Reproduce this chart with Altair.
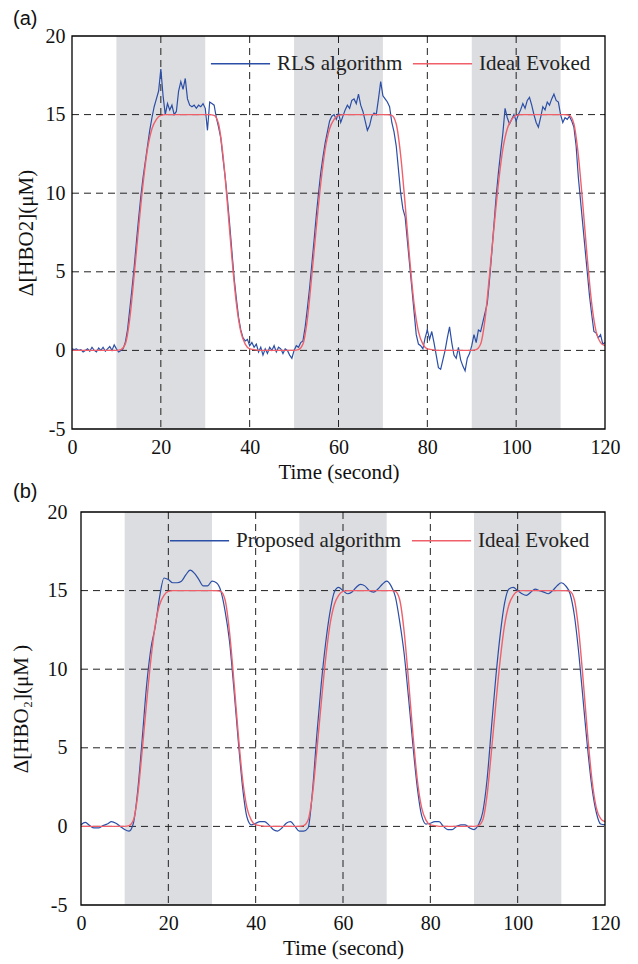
import altair as alt
import pandas as pd

# ---------------- data ----------------
shade_start = [10, 50, 90]
shade_end = [30, 70, 110]
grid_x = [20, 40, 60, 80, 100]
grid_y = [0, 5, 10, 15]
x_ticks = [0, 20, 40, 60, 80, 100, 120]
y_ticks = [-5, 0, 5, 10, 15, 20]

# ideal evoked response, 1 s resolution, t = 0..120
t_ideal = list(range(0, 121))
ideal = [
    0, 0, 0, 0, 0, 0, 0, 0, 0, 0, 0, 0.05,
    0.4, 2.0, 4.8, 7.8, 10.6, 12.8, 14.1, 14.7, 14.95,
    15, 15, 15, 15, 15, 15, 15, 15, 15, 15, 15,
    14.95, 14.4, 12.4, 9.3, 5.9, 3.0, 1.2, 0.4, 0.1,
    0.05, 0, 0, 0, 0, 0, 0, 0, 0, 0, 0.05,
    0.4, 2.0, 4.8, 7.8, 10.6, 12.8, 14.1, 14.7, 14.95,
    15, 15, 15, 15, 15, 15, 15, 15, 15, 15, 15,
    14.95, 14.4, 12.4, 9.3, 5.9, 3.0, 1.2, 0.4, 0.1,
    0.05, 0, 0, 0, 0, 0, 0, 0, 0, 0, 0.05,
    0.4, 2.0, 4.8, 7.8, 10.6, 12.8, 14.1, 14.7, 14.95,
    15, 15, 15, 15, 15, 15, 15, 15, 15, 15, 15,
    14.95, 14.4, 12.4, 9.3, 5.9, 3.0, 1.2, 0.5, 0.3,
]

# RLS algorithm estimate, 0.5 s resolution, t = 0..120
t_rls = [i / 2 for i in range(241)]
rls = [
    0.1, 0.05, 0.1, 0.0, 0.05, -0.1, 0.0, 0.1, -0.05, 0.2,
    0.0, -0.1, 0.15, 0.0, 0.2, -0.05, 0.1, 0.25, 0.0, 0.35,
    0.1, -0.1, 0.0, 0.1, 0.5, 1.3, 2.6, 3.9, 5.3, 6.9,
    8.4, 9.8, 11.0, 12.0, 13.0, 14.0, 14.8, 15.5, 16.0, 16.5,
    17.9, 16.2, 15.0, 15.7, 15.3, 15.6, 15.0, 15.2, 16.5, 17.1,
    16.6, 17.3, 16.0, 15.6, 15.5, 15.6, 15.4, 15.6, 15.5, 15.7,
    15.4, 14.0, 15.8, 15.7, 15.6, 14.8, 14.2, 13.5, 12.2, 11.0,
    9.6, 8.0, 6.3, 4.6, 3.3, 2.1, 1.3, 0.8, 0.6, 0.7,
    0.3, 0.5, 0.2, 0.4, -0.1, 0.2, -0.3, 0.1, -0.2, 0.2,
    0.0, 0.3, -0.1, 0.2, 0.1, -0.2, 0.1, 0.0, -0.3, -0.5,
    0.0, 0.3, 0.2, 0.5, 0.6, 1.5, 2.7, 4.0, 5.5, 7.0,
    8.6, 10.0, 11.3, 12.3, 13.2, 13.9, 14.6, 14.9, 15.0, 14.7,
    15.1, 14.5, 14.9, 15.3, 15.6, 15.4, 15.9, 16.0, 15.7, 16.3,
    15.6, 15.2, 14.6, 14.0, 14.3, 14.9, 15.1, 15.0, 16.0, 17.1,
    16.2, 16.0, 15.8, 15.5, 14.5, 13.9, 13.0, 11.5, 10.0, 9.0,
    8.5, 7.0, 5.5, 4.0, 2.5, 1.0, 0.4, 0.3, 0.1, 0.8,
    1.3, 0.7, 1.2, 0.5, -0.3, -1.1, -1.2, -0.6, 0.0, 0.8,
    1.5, 0.5, -0.3, -0.5, 0.2, -0.6, -1.0, -1.3, -0.5, -0.2,
    0.3, 1.0, 0.5, 1.3, 1.2, 1.8, 2.4, 3.0, 4.5, 6.2,
    8.0, 9.8, 11.3, 12.6, 13.8, 15.4, 14.8, 14.4, 14.7, 15.0,
    14.6, 15.0, 15.3, 15.7, 15.4, 15.9, 16.1, 15.6, 15.0, 14.5,
    14.2, 14.8, 15.5, 15.3, 15.8, 15.6, 16.0, 16.3, 15.9, 15.8,
    15.0, 14.5, 14.8, 14.7, 14.9, 14.6, 14.2, 13.0, 11.0, 9.5,
    8.0, 6.5, 5.0, 3.5, 2.3, 1.2, 1.1, 0.8, 1.0, 0.4,
    0.5,
]

# Proposed algorithm estimate, 1 s resolution, t = 0..120
t_prop = list(range(0, 121))
proposed = [
    0.1, 0.25, 0.05, -0.1, -0.1, 0.05, 0.15, 0.3, 0.2, 0.0,
    -0.2, -0.3, 0.2, 2.3, 5.5, 8.9, 11.3, 12.7, 14.6, 15.8,
    15.7, 15.5, 15.5, 15.6, 16.0, 16.3, 16.1, 15.7, 15.3, 15.3,
    15.6, 15.5, 15.0, 13.7, 11.8, 8.8, 5.5, 2.5, 0.6, 0.1,
    0.2, 0.3, 0.3, 0.1, -0.2, -0.3, -0.1, 0.2, 0.3, 0.0,
    -0.3, -0.3, -0.1, 2.2, 5.8, 9.0, 11.6, 13.6, 14.9, 15.2,
    15.0, 14.8, 14.9, 15.2, 15.4, 15.3, 15.0, 14.9, 15.1, 15.4,
    15.6, 15.3, 14.6, 13.0, 11.0, 8.2, 5.2, 2.5, 0.7, 0.15,
    0.2, 0.3, 0.3, 0.0, -0.2, -0.2, 0.0, 0.1, 0.1, -0.1,
    -0.2, 0.1, 0.9, 3.0, 6.3, 9.5, 12.2, 14.2, 15.1, 15.2,
    15.0, 14.8, 14.7, 14.9, 15.1, 15.0, 14.9, 14.8, 15.0, 15.3,
    15.5, 15.3, 14.8, 13.4, 11.0, 8.0, 5.0, 2.5, 0.9, 0.15,
    0.1,
]

BLUE = "#2b4ea6"
RED = "#f0606a"
SHADE = "#dcdde0"
SERIF = "Liberation Serif"
W = 533
H = 393


def panel(tag, blue_name, bt, bv, x_start, ytitle, label_pad, title_pad,
          legend_x, legend_y, tag_x, tag_y):
    xs = alt.Scale(domain=[0, 120], nice=False, zero=False, range=[x_start, W])
    ys = alt.Scale(domain=[-5, 20], nice=False, zero=False)
    xaxis = alt.Axis(values=x_ticks, title="Time (second)", grid=False, ticks=False,
                     domain=False, labelPadding=8, titlePadding=4, labelFlush=False,
                     labelOverlap=False, format="d", titleX=(x_start + W) / 2,
                     labelFont=SERIF, labelFontSize=20, labelColor="#111",
                     titleFont=SERIF, titleFontSize=21, titleFontWeight="normal",
                     titleColor="#111")
    yaxis = alt.Axis(values=y_ticks, title=ytitle, grid=False, ticks=False,
                     domain=False, labelPadding=label_pad, titlePadding=title_pad,
                     labelFlush=False, labelOverlap=False, labelExpr="'' + datum.value",
                     labelFont=SERIF, labelFontSize=20, labelColor="#111",
                     titleFont=SERIF, titleFontSize=21, titleFontWeight="normal",
                     titleColor="#111")
    cscale = alt.Scale(domain=[blue_name, "Ideal Evoked"], range=[BLUE, RED])
    legend = alt.Legend(orient="none", legendX=legend_x, legendY=legend_y,
                        direction="horizontal", title=None, labelFont=SERIF,
                        labelFontSize=21, labelColor="#222", symbolType="stroke",
                        symbolSize=3500, symbolStrokeWidth=1.5, labelOffset=6,
                        columnPadding=6, padding=0, labelLimit=400)

    shade = alt.Chart(pd.DataFrame({"s": shade_start, "e": shade_end})).mark_rect(
        color=SHADE).encode(
        x=alt.X("s:Q", scale=xs, axis=xaxis), x2="e:Q",
        y=alt.value(0), y2=alt.value(H))
    gx = alt.Chart(pd.DataFrame({"g": grid_x})).mark_rule(
        color="#222", strokeDash=[7, 5], strokeWidth=1).encode(
        x=alt.X("g:Q", scale=xs, axis=xaxis))
    gy = alt.Chart(pd.DataFrame({"g": grid_y, "a": [0] * len(grid_y),
                                 "b": [120] * len(grid_y)})).mark_rule(
        color="#222", strokeDash=[7, 5], strokeWidth=1).encode(
        x=alt.X("a:Q", scale=xs, axis=xaxis), x2="b:Q",
        y=alt.Y("g:Q", scale=ys, axis=yaxis))
    dblue = pd.DataFrame({"t": bt, "v": bv, "s": blue_name})
    dred = pd.DataFrame({"t": t_ideal, "v": ideal, "s": "Ideal Evoked"})
    interp = "linear" if tag == "(a)" else "monotone"
    lblue = alt.Chart(dblue).mark_line(strokeWidth=1.2, interpolate=interp).encode(
        x=alt.X("t:Q", scale=xs, axis=xaxis),
        y=alt.Y("v:Q", scale=ys, axis=yaxis),
        color=alt.Color("s:N", scale=cscale, legend=legend))
    lred = alt.Chart(dred).mark_line(strokeWidth=1.4, interpolate="monotone").encode(
        x=alt.X("t:Q", scale=xs, axis=xaxis),
        y=alt.Y("v:Q", scale=ys, axis=yaxis),
        color=alt.Color("s:N", scale=cscale, legend=legend))
    frame = alt.Chart(pd.DataFrame({"x0": [0], "x1": [120], "y0": [-5], "y1": [20]})).mark_rect(
        fillOpacity=0, stroke="black", strokeWidth=1.3).encode(
        x=alt.X("x0:Q", scale=xs, axis=xaxis), x2="x1:Q",
        y=alt.Y("y0:Q", scale=ys, axis=yaxis), y2="y1:Q")
    label = alt.Chart(pd.DataFrame({"tag": [tag]})).mark_text(
        align="left", baseline="middle", font="Liberation Sans", fontSize=20,
        color="#111").encode(text="tag:N", x=alt.value(tag_x), y=alt.value(tag_y))
    return alt.layer(shade, gx, gy, lblue, lred, frame, label).properties(
        width=W, height=H)


pa = panel("(a)", "RLS algorithm", t_rls, rls, 0, "Δ[HBO2](μM)", 7, 9,
           138, -3, -59, -17.5)
pb = panel("(b)", "Proposed algorithm", t_prop, proposed, 9, "Δ[HBO₂](μM )", 5, 16,
           97, -2, -59, -20)

chart = alt.vconcat(pa, pb, spacing=0).resolve_scale(
    x="independent", y="independent", color="independent").resolve_legend(
    color="independent").properties(
    padding={"left": 2, "top": 0, "right": 5, "bottom": 2}).configure_view(
    strokeOpacity=0)

chart.save("out.html", embed_options={"renderer": "svg", "actions": False})
